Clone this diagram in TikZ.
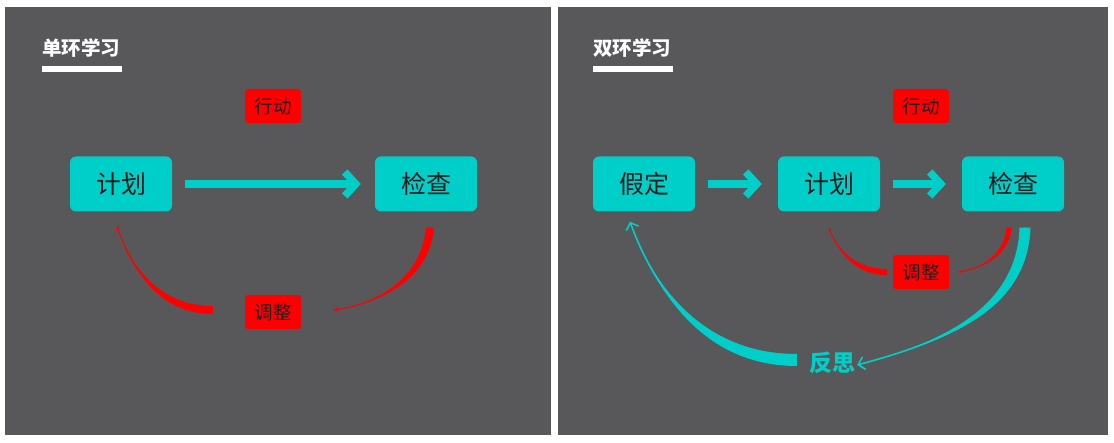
\documentclass[tikz,border=0pt]{standalone}
\usepackage{fontspec}
\usepackage{xcolor}
\usepackage{tikz}
\usetikzlibrary{arrows.meta, positioning}
\newfontfamily\cjk{Noto Sans CJK SC}
\definecolor{kgray}{HTML}{58585A}
\definecolor{kteal}{HTML}{00CEC8}
\definecolor{kred}{HTML}{FF0000}
\definecolor{kink}{HTML}{1E1E1E}

\tikzset{
  stagebox/.style={fill=kteal, rounded corners=6pt, minimum width=102pt, minimum height=55pt,
    inner sep=0pt, text=kink, font=\cjk\fontsize{25}{29}\selectfont},
  tagbox/.style={fill=kred, rounded corners=3pt, minimum width=56pt, minimum height=34pt,
    inner sep=0pt, text=kink, font=\cjk\fontsize{18.5}{21}\selectfont},
  headline/.style={anchor=west, inner sep=0pt, text=white, font=\cjk\bfseries\fontsize{19.5}{22}\selectfont},
  flow/.style={kteal, line width=7.5pt, -{Straight Barb[length=11pt,width=24pt]}},
  redtip/.style={kred, line width=0.9pt, -{Stealth[length=5pt,width=4.5pt]}},
  tealtip/.style={kteal, line width=1.6pt, -{Straight Barb[length=6pt,width=13pt]}},
}

\begin{document}
\begin{tikzpicture}[x=1pt, y=1pt]
\useasboundingbox (0,0) rectangle (1114,443);
\fill[white] (0,0) rectangle (1114,443);
\fill[kgray] (5,8) rectangle (551,436);
\fill[kgray] (558,8) rectangle (1108,436);

% single loop
\node[headline] (title1) at (42,395) {单环学习};
\fill[white] (42,371) rectangle (122,377);
\node[tagbox] (act1) at (273,337) {行动};
\node[stagebox] (plan1) at (121,259) {计划};
\node[stagebox] (check1) at (426,259) {检查};
\node[tagbox] (adj1) at (273,131) {调整};
\draw[flow, shorten <=13pt, shorten >=14pt] (plan1.east) -- (check1.west);

\coordinate (a1) at ([xshift=4pt,yshift=-16pt]check1.south);
\coordinate (a2) at ([xshift=32pt,yshift=2pt]adj1.east);
\coordinate (b1) at ([xshift=-32pt,yshift=2pt]adj1.west);
\coordinate (b2) at ([xshift=-4pt,yshift=-14pt]plan1.south);
\fill[kred] ([xshift=4pt]a1) to[out=-95,in=8] (a2) to[out=8,in=-95] ([xshift=-4pt]a1) -- cycle;
\draw[redtip] (a1) to[out=-95,in=8] (a2);
\fill[kred] ([yshift=-4pt]b1) to[out=180,in=-72] (b2) to[out=-72,in=180] ([yshift=4pt]b1) -- cycle;
\draw[redtip] (b1) to[out=180,in=-72] (b2);

% double loop
\node[headline] (title2) at (593,395) {双环学习};
\fill[white] (593,371) rectangle (673,377);
\node[tagbox] (act2) at (921,337) {行动};
\node[stagebox] (hyp) at (644,259) {假定};
\node[stagebox] (plan2) at (829,259) {计划};
\node[stagebox] (check2) at (1013,259) {检查};
\node[tagbox] (adj2) at (921,171) {调整};
\node[inner sep=1pt, text=kteal, font=\cjk\bfseries\fontsize{23}{27}\selectfont] (refl) at (832,80) {反思};
\draw[flow, shorten <=13pt, shorten >=16pt] (hyp.east) -- (plan2.west);
\draw[flow, shorten <=13pt, shorten >=16pt] (plan2.east) -- (check2.west);

\coordinate (c1) at ([xshift=-4pt,yshift=-16pt]check2.south);
\coordinate (c2) at ([xshift=9pt]adj2.east);
\coordinate (d1) at ([xshift=-6pt]adj2.west);
\coordinate (d2) at ([yshift=-16pt]plan2.south);
\fill[kred] ([xshift=2.5pt]c1) to[out=-95,in=8] (c2) to[out=8,in=-95] ([xshift=-2.5pt]c1) -- cycle;
\draw[redtip, -{Stealth[length=3pt,width=3pt]}] (c1) to[out=-95,in=8] (c2);
\fill[kred] ([yshift=-3pt]d1) to[out=180,in=-70] (d2) to[out=-70,in=180] ([yshift=3pt]d1) -- cycle;
\draw[redtip, -{Stealth[length=3pt,width=3pt]}] (d1) to[out=180,in=-70] (d2);

\coordinate (e1) at ([xshift=12pt,yshift=-16pt]check2.south);
\coordinate (e2) at ([xshift=1pt,yshift=-2pt]refl.east);
\coordinate (f1) at ([xshift=-11pt,yshift=3pt]refl.west);
\coordinate (f2) at ([xshift=-14pt,yshift=-10pt]hyp.south);
\fill[kteal] ([xshift=5.5pt]e1) to[out=-92,in=15] (e2) to[out=15,in=-92] ([xshift=-5.5pt]e1) -- cycle;
\draw[tealtip] (e1) to[out=-92,in=15] (e2);
\fill[kteal] ([yshift=-6pt]f1) to[out=180,in=-70] (f2) to[out=-70,in=180] ([yshift=6pt]f1) -- cycle;
\draw[tealtip] (f1) to[out=180,in=-70] (f2);
\end{tikzpicture}
\end{document}
